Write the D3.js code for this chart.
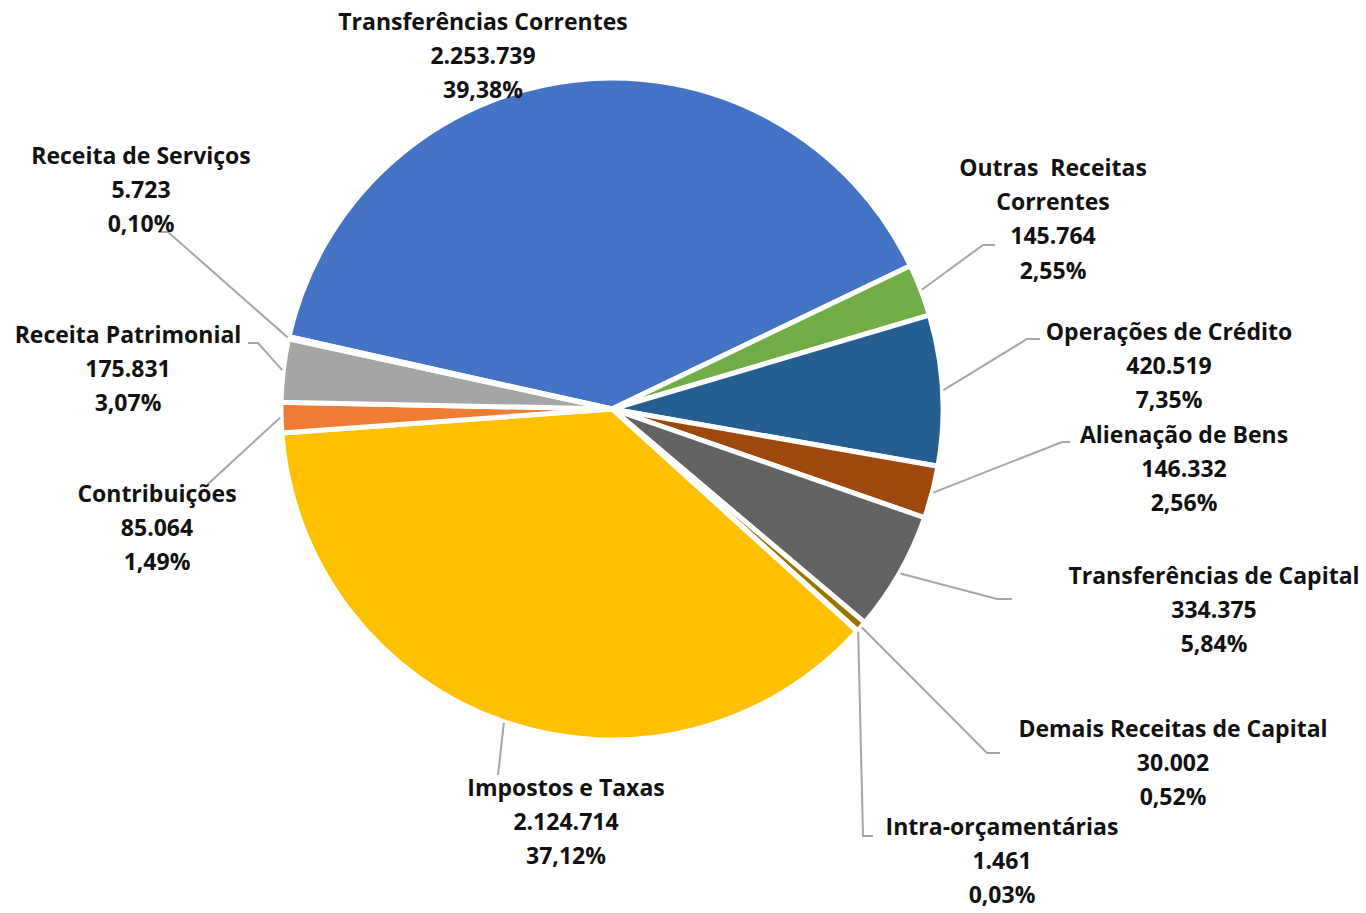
<!DOCTYPE html>
<html>
<head>
<meta charset="utf-8">
<script src="https://cdn.jsdelivr.net/npm/d3@7"></script>
<style>
  body { margin: 0; background: #fff; }
  .lbl { font-family: "Open Sans", Lato, sans-serif; font-weight: 700; font-size: 23px; fill: #111; }
  .leader { fill: none; stroke: #a6a6a6; stroke-width: 2; }
</style>
</head>
<body>
<div id="chart"></div>
<script>
var categories = [
  "Transferências Correntes", "Outras Receitas Correntes", "Operações de Crédito",
  "Alienação de Bens", "Transferências de Capital", "Demais Receitas de Capital",
  "Intra-orçamentárias", "Impostos e Taxas", "Contribuições",
  "Receita Patrimonial", "Receita de Serviços"
];
var values = [2253739, 145764, 420519, 146332, 334375, 30002, 1461, 2124714, 85064, 175831, 5723];
var colors = ["#4472c4", "#70ad47", "#255e91", "#9e480e", "#636363", "#997300",
              "#264478", "#ffc000", "#ed7d31", "#a5a5a5", "#5b9bd5"];
// how the category names break onto lines in the labels
var nameLines = [
  ["Transferências Correntes"], ["Outras  Receitas", "Correntes"], ["Operações de Crédito"],
  ["Alienação de Bens"], ["Transferências de Capital"], ["Demais Receitas de Capital"],
  ["Intra-orçamentárias"], ["Impostos e Taxas"], ["Contribuições"],
  ["Receita Patrimonial"], ["Receita de Serviços"]
];

// label layout: text centre and first line y, leader elbow and end
var labelPos = [
  { x: 483, y: 21, elbow: null },
  { x: 1053, y: 167, elbow: [983, 245], end: [995, 245] },
  { x: 1169, y: 331, elbow: [1027, 339], end: [1040, 339] },
  { x: 1184, y: 434, elbow: [1062, 442], end: [1070, 442] },
  { x: 1214, y: 575, elbow: [997, 599], end: [1012, 599] },
  { x: 1173, y: 728, elbow: [987, 753], end: [1000, 753] },
  { x: 1002, y: 826, elbow: [863, 836], end: [873, 836] },
  { x: 566, y: 787, elbow: [498, 775], end: [498, 775] },
  { x: 157, y: 493, elbow: [208, 484], end: [208, 484] },
  { x: 128, y: 334, elbow: [258, 343], end: [248, 343] },
  { x: 141, y: 155, elbow: [168, 232], end: [158, 232] }
];

var width = 1366, height = 913;
var cx = 612, cy = 409, radius = 331;
var lineH = 34.2;

var svg = d3.select("#chart").append("svg")
    .attr("width", width)
    .attr("height", height);

var data = categories.map(function(c, i) { return { name: c, value: values[i], i: i }; });
var total = d3.sum(values);

var startDeg = -77.4;
var pie = d3.pie()
    .sort(null)
    .value(function(d) { return d.value; })
    .startAngle(startDeg * Math.PI / 180)
    .endAngle((startDeg + 360) * Math.PI / 180);

var arc = d3.arc().innerRadius(0).outerRadius(radius);
var arcs = pie(data);

var g = svg.append("g").attr("transform", "translate(" + cx + "," + cy + ")");

g.selectAll("path.slice")
  .data(arcs)
  .enter().append("path")
    .attr("class", "slice")
    .attr("d", arc)
    .attr("fill", function(d) { return colors[d.data.i]; })
    .attr("stroke", "#fff")
    .attr("stroke-width", 5)
    .attr("stroke-linejoin", "round");

// leader lines
function edgePoint(d, r) {
  var a = (d.startAngle + d.endAngle) / 2;
  return [cx + r * Math.sin(a), cy - r * Math.cos(a)];
}

svg.selectAll("path.leader")
  .data(arcs.filter(function(d) { return labelPos[d.data.i].elbow; }))
  .enter().append("path")
    .attr("class", "leader")
    .attr("d", function(d) {
      var p = labelPos[d.data.i];
      var s = edgePoint(d, radius + 1);
      return "M" + s[0] + "," + s[1] + "L" + p.elbow[0] + "," + p.elbow[1] + "L" + p.end[0] + "," + p.end[1];
    });

var fmtVal = function(v) { return d3.format(",")(v).replace(/,/g, "."); };
var fmtPct = function(v) { return d3.format(".2f")(v * 100).replace(".", ",") + "%"; };

var lbl = svg.selectAll("text.lbl")
  .data(data)
  .enter().append("text")
    .attr("class", "lbl")
    .attr("text-anchor", "middle")
    .attr("dominant-baseline", "central");

lbl.each(function(d) {
  var p = labelPos[d.i];
  var lines = nameLines[d.i].concat([fmtVal(d.value), fmtPct(d.value / total)]);
  d3.select(this).selectAll("tspan")
    .data(lines)
    .enter().append("tspan")
      .attr("x", p.x)
      .attr("y", function(t, k) { return p.y + k * lineH; })
      .attr("xml:space", "preserve")
      .text(function(t) { return t; });
});
</script>
</body>
</html>
